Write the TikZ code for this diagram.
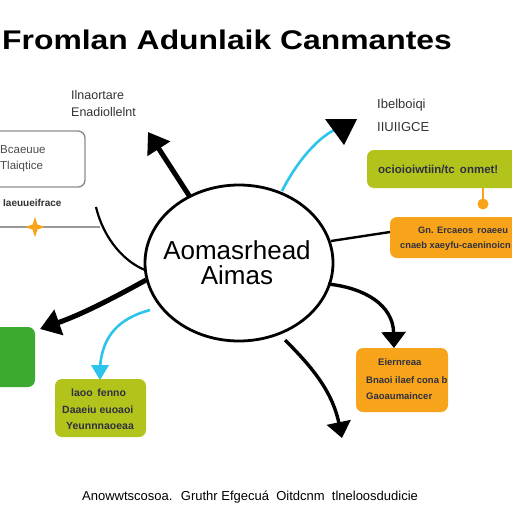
\documentclass[tikz,border=0pt]{standalone}
\usepackage{fontspec}
\setmainfont{Liberation Sans}
\usetikzlibrary{arrows.meta}
\definecolor{olive}{HTML}{B2C41C}
\definecolor{orng}{HTML}{F7A41A}
\definecolor{grn}{HTML}{3CAA30}
\definecolor{cyn}{HTML}{2CC4EC}
\definecolor{txt}{HTML}{303040}
\tikzset{
  box/.style={rounded corners=7pt, inner sep=0pt},
  boxtxt/.style={font=\fontsize{10.5}{12}\selectfont\bfseries, text=txt, align=left, inner sep=0pt},
  lbl/.style={font=\fontsize{12.5}{14}\selectfont, text=black!80, align=left, inner sep=0pt},
  thickarr/.style={line width=5pt, -{Triangle[length=20pt,width=26pt]}},
  medarr/.style={line width=3.4pt, -{Triangle[length=16pt,width=24pt]}},
  cyanarr/.style={cyn, line width=2.6pt},
}
\begin{document}
\begin{tikzpicture}[x=1pt,y=-1pt]
\useasboundingbox (0,0) rectangle (512,512);
\clip (0,0) rectangle (512,512);
\fill[white] (0,0) rectangle (512,512);
% title
\node[font=\fontsize{27}{30}\selectfont\bfseries, inner sep=0pt, anchor=west, xscale=1.18] (title) at (2,40) {Fromlan Adunlaik Canmantes};
% central ellipse
\draw[line width=2.8pt] (239,263) ellipse [x radius=94, y radius=78];
\coordinate (c) at (239,263);
\node[font=\fontsize{26}{30}\selectfont, inner sep=0pt] (ct1) at (237,250) {Aomasrhead};
\node[font=\fontsize{26}{30}\selectfont, inner sep=0pt] (ct2) at (237,275) {Aimas};
% top-left label
\node[lbl, anchor=west] (tl1) at (71,95) {Ilnaortare};
\node[lbl, anchor=west] (tl2) at (71,112) {Enadiollelnt};
% gray box
\draw[box, black!45, line width=1.4pt] (-10,131) rectangle (85,187);
\node[lbl, anchor=west, text=black!70, font=\fontsize{11.5}{13}\selectfont] (gb1) at (0,150) {Bcaeuue};
\node[lbl, anchor=west, text=black!70, font=\fontsize{11.5}{13}\selectfont] (gb2) at (0,167) {Tlaiqtice};
\node[lbl, anchor=west, font=\fontsize{10}{12}\selectfont\bfseries] (ifl) at (3,203) {Iaeuueifrace};
% gray line with star
\coordinate (gl0) at (0,227);
\coordinate (gl1) at (100,227);
\draw[black!40, line width=1.2pt] (gl0) -- (gl1);
\fill[orng] (35,217) -- (37.5,224.5) -- (45,227) -- (37.5,229.5) -- (35,237) -- (32.5,229.5) -- (25,227) -- (32.5,224.5) -- cycle;
% left curve
\coordinate (lc0) at (96,207);
\coordinate (lc1) at (145,270);
\draw[line width=2.2pt] (lc0) .. controls (104,240) and (125,262) .. (lc1);
% top-left thick arrow
\coordinate (a1s) at (190,197);
\coordinate (a1e) at (148,132);
\draw[thickarr] (a1s) -- (a1e);
% cyan top arrow
\coordinate (cys) at (282,191);
\coordinate (cye) at (343,130);
\draw[cyanarr] (cys) .. controls (295,165) and (315,140) .. (334,130);
\fill (325,119) -- (357,119) -- (344,145) -- cycle;
% right label
\node[lbl, anchor=west, font=\fontsize{13}{15}\selectfont] (rl1) at (377,105) {Ibelboiqi};
\node[lbl, anchor=west, font=\fontsize{13}{15}\selectfont] (rl2) at (377,127) {IIUIIGCE};
% olive box
\fill[box, olive] (367,150) rectangle (525,188);
\node[boxtxt, anchor=west, font=\fontsize{11.5}{13}\selectfont\bfseries] (ob) at (378,169) {ocioioiwtiin/tc\, onmet!};
% orange connector
\coordinate (oc0) at (483,188);
\draw[orng, line width=1.4pt] (oc0) -- (483,203);
\fill[orng] (483,204) circle (5.5);
% orange box 1
\fill[box, orng] (390,217) rectangle (525,258);
\node[boxtxt, anchor=west, font=\fontsize{9.3}{11}\selectfont\bfseries] (o1a) at (418,230) {Gn. Ercaeos\, roaeeu};
\node[boxtxt, anchor=west, font=\fontsize{9.3}{11}\selectfont\bfseries] (o1b) at (400,246) {cnaeb xaeyfu-caeninoicn};
\draw[line width=2.4pt] (331,241) -- (390,232);
% right-bottom arrow
\coordinate (rbs) at (328,284);
\coordinate (rbe) at (394,348);
\draw[medarr] (rbs) .. controls (365,288) and (393,305) .. (rbe);
% orange box 2
\fill[box, orng] (356,348) rectangle (448,412);
\node[boxtxt, anchor=west, font=\fontsize{9.5}{11}\selectfont\bfseries] (o2a) at (378,362) {Eiernreaa};
\node[boxtxt, anchor=west, font=\fontsize{9.5}{11}\selectfont\bfseries] (o2b) at (366,380) {Bnaoi ilaef cona b};
\node[boxtxt, anchor=west, font=\fontsize{9.5}{11}\selectfont\bfseries] (o2c) at (366,396) {Gaoaumaincer};
% bottom arrow
\coordinate (bs) at (285,340);
\coordinate (be) at (342,438);
\draw[medarr] (bs) .. controls (310,365) and (332,390) .. (be);
% left thick arrow
\coordinate (las) at (146,280);
\coordinate (lae) at (40,329);
\draw[thickarr] (las) .. controls (110,300) and (80,315) .. (lae);
% green box
\fill[box, grn] (-10,327) rectangle (35,387);
% cyan bottom-left arrow
\coordinate (cbs) at (150,310);
\coordinate (cbe) at (100,378);
\draw[cyanarr] (cbs) .. controls (120,318) and (102,335) .. (100,368);
\fill[cyn] (91,365) -- (109,365) -- (100,380) -- cycle;
% olive box bottom
\fill[box, olive] (55,379) rectangle (146,437);
\node[boxtxt, anchor=west] (ob1) at (71,393) {laoo\, fenno};
\node[boxtxt, anchor=west] (ob2) at (62,410) {Daaeiu euoaoi};
\node[boxtxt, anchor=west] (ob3) at (66,426) {Yeunnnaoeaa};
% footer
\node[font=\fontsize{13}{15}\selectfont, inner sep=0pt, anchor=west] (foot) at (82,497) {Anowwtscosoa.\; Gruthr Efgecuá\; Oitdcnm\; tlneloosdudicie};
\end{tikzpicture}
\end{document}
